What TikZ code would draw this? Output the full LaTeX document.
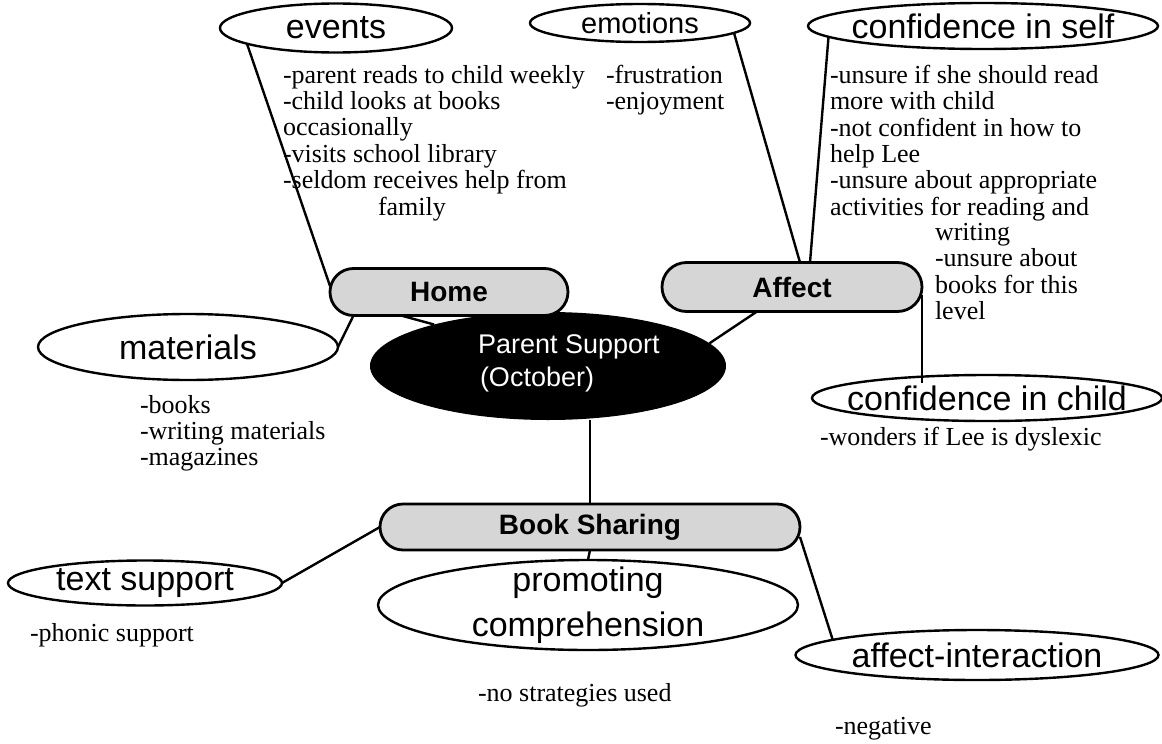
\documentclass[tikz,border=0pt]{standalone}
\usepackage{fontspec}
\setmainfont{Liberation Serif}
\newfontfamily\labelfont{Liberation Sans}
\usetikzlibrary{shapes.geometric,shapes.misc}

\begin{document}
\begin{tikzpicture}[x=1pt,y=-1pt,
  every node/.style={inner sep=0pt, outer sep=0pt},
  lab/.style={font=\labelfont\fontsize{34}{45}\selectfont, align=center},
  leaf/.style={draw, ellipse, line width=2.4pt},
  hub/.style={draw, rounded rectangle, line width=2.8pt, fill=gray!32,
    font=\labelfont\bfseries\fontsize{28}{30}\selectfont},
  note/.style={anchor=north west, align=left, font=\fontsize{26}{26.4}\selectfont},
  link/.style={line width=2.4pt}]
\useasboundingbox (0,0) rectangle (1162,744);

% topic ellipses (labels set as centred labels so the outline keeps its size)
\node[leaf, minimum width=232pt, minimum height=49pt, label={[lab]center:events}] (events) at (336,28) {};
\node[leaf, minimum width=220pt, minimum height=38pt, label={[lab, font=\labelfont\fontsize{29}{30}\selectfont]center:emotions}] (emotions) at (640,23) {};
\node[leaf, minimum width=350pt, minimum height=46pt, label={[lab]center:confidence in self}] (confself) at (983,26) {};
\node[leaf, minimum width=300pt, minimum height=66pt, label={[lab]center:materials}] (materials) at (188,347) {};
\node[leaf, minimum width=350pt, minimum height=46pt, label={[lab]center:confidence in child}] (confchild) at (987,398) {};
\node[leaf, minimum width=274pt, minimum height=45pt, label={[lab]center:text support}] (textsup) at (145,583) {};
\node[leaf, minimum width=420pt, minimum height=90pt, label={[lab]center:promoting\\comprehension}] (promo) at (588,605) {};
\node[leaf, minimum width=363pt, minimum height=50pt, label={[lab]center:affect-interaction}] (affint) at (977,655) {};

% central ellipse and its caption
\node[ellipse, fill=black, minimum width=356pt, minimum height=108pt] (parent) at (548,366) {};
\node[anchor=west, align=left, text=white, font=\labelfont\fontsize{27}{33}\selectfont] (parentlab) at (478,363) {Parent Support\\\hspace*{2pt}(October)};

% category boxes
\node[hub, minimum width=238pt, minimum height=47pt] (home) at (449,292) {Home};
\node[hub, minimum width=260pt, minimum height=49pt] (affect) at (792,287) {Affect};
\node[hub, minimum width=420pt, minimum height=46pt] (book) at (590,527) {Book Sharing};

% notes
\node[note] (evnotes) at (283,65) {-parent reads to child weekly\\-child looks at books\\occasionally\\-visits school library\\-seldom receives help from\\\hspace*{95pt}family};
\node[note] (emnotes) at (606,65) {-frustration\\-enjoyment};
\node[note] (csnotes) at (830,65) {-unsure if she should read\\more with child\\-not confident in how to\\help Lee\\-unsure about appropriate\\activities for reading and};
\node[note] (csnotes2) at (935,223) {writing\\-unsure about\\books for this\\level};
\node[note] (manotes) at (140,395) {-books\\-writing materials\\-magazines};
\node[note] (ccnotes) at (820,427) {-wonders if Lee is dyslexic};
\node[note] (tsnotes) at (30,623) {-phonic support};
\node[note] (pcnotes) at (478,683) {-no strategies used};
\node[note] (ainotes) at (835,717) {-negative};

% connectors
\draw[link] (events.190) -- ([yshift=6pt]home.west);
\draw[link] (materials.east) -- (home.south west);
\draw[link] ([xshift=-48pt]home.south) -- (parent.160);
\draw[link] (emotions.-6) -- ([xshift=8pt]affect.north);
\draw[link] (confself.-176) -- ([xshift=18pt]affect.north);
\draw[link] ([xshift=-35pt]affect.south) -- (parent.8);
\draw[link] ([yshift=-8pt]affect.east) -- ([yshift=-8pt]affect.east |- confchild.north);
\draw[link] (book.north |- parent.south) -- (book.north);
\draw[link] (book.west) -- (textsup.east);
\draw[link] (book.south) -- (promo.north);
\draw[link] ([yshift=-10pt]book.east) -- (affint.174);
\end{tikzpicture}
\end{document}
